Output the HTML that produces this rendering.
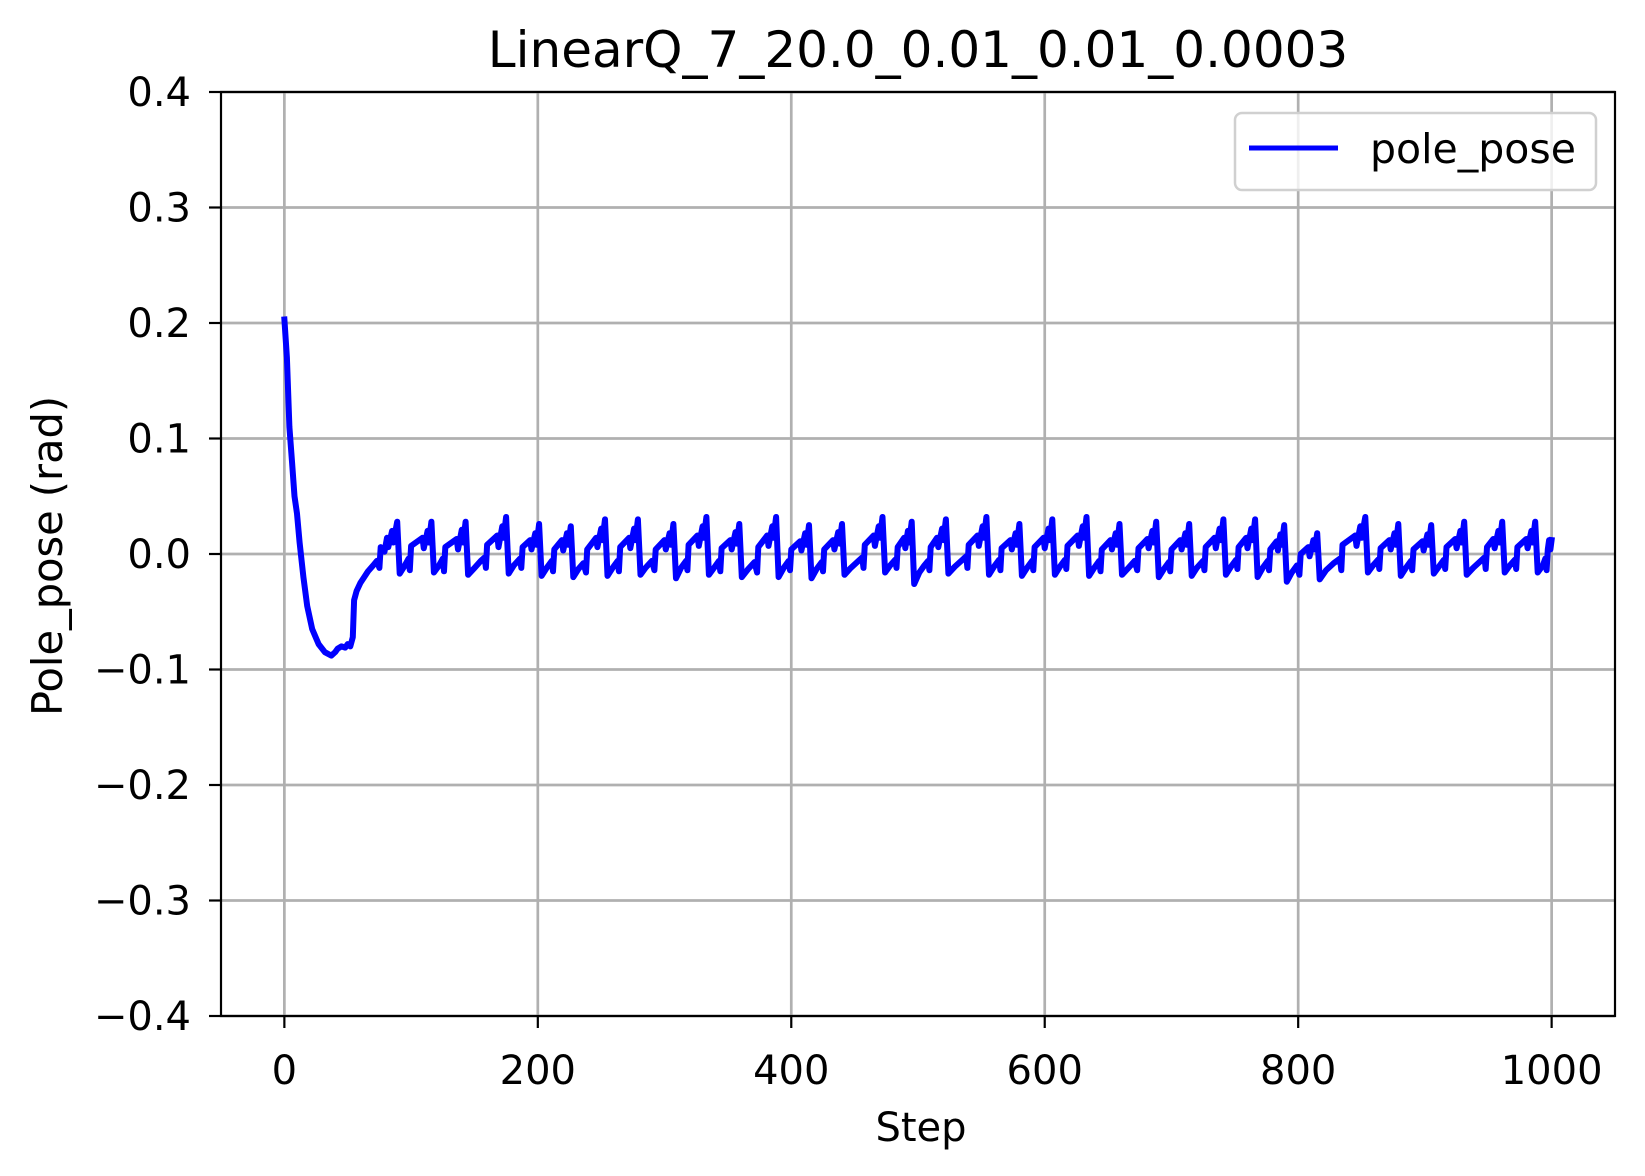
<!DOCTYPE html>
<html><head><meta charset="utf-8"><style>
html,body{margin:0;padding:0;background:#fff;}
svg{display:block;font-family:"DejaVu Sans","Liberation Sans",sans-serif;}
</style></head><body>
<svg id="chart" width="1645" height="1176" viewBox="0 0 1645 1176" xmlns="http://www.w3.org/2000/svg">
<rect width="1645" height="1176" fill="#fff"/>
<g id="grid"></g>
<g id="series"></g>
<rect x="221" y="92" width="1394" height="924" fill="none" stroke="#000" stroke-width="2.2"/>
<g id="ticks"></g>
<text x="918" y="67" font-size="50" text-anchor="middle">LinearQ_7_20.0_0.01_0.01_0.0003</text>
<text x="921" y="1141" font-size="40" text-anchor="middle">Step</text>
<text transform="translate(62,556) rotate(-90)" font-size="41.5" text-anchor="middle">Pole_pose (rad)</text>
<g>
<rect x="1241" y="113" width="361" height="77" rx="7" fill="#fff" fill-opacity="0.8" stroke="#d0d0d0" stroke-width="2.5" transform="translate(-6,0)"/>
<line x1="1249" y1="148" x2="1338" y2="148" stroke="#0000ff" stroke-width="5"/>
<text x="1370" y="163" font-size="41">pole_pose</text>
</g>
</svg>
<script>
const xTicks=[0,200,400,600,800,1000];
const yTicks=[0.4,0.3,0.2,0.1,0.0,-0.1,-0.2,-0.3,-0.4];
const yTickLabels=["0.4","0.3","0.2","0.1","0.0","\u22120.1","\u22120.2","\u22120.3","\u22120.4"];
const seriesPoints=[[0,.203],[2,.17],[4,.11],[6,.08],[8,.05],[10,.035],[12,.01],[15,-.02],[18,-.045],[22,-.065],[27,-.078],[32,-.085],[37,-.088],[40,-.085],[42,-.082],[45,-.08],[48,-.081],[50,-.078],[52,-.08],[54,-.072],[55,-.04],[57,-.032],[60,-.025],[63,-.02],[66,-.015],[70,-.01],[73,-.006],[75,-.012],[76,.006],[79,.002],[81,.014],[82,.006],[85,.02],[86,.01],[89,.028],
[91,-.017],[95,-.01],[98,-.004],[99,-.014],[100,.007],[109,.014],[110,.005],[113,.02],[114,.01],[116,.028],
[118,-.016],[122,-.01],[125,-.004],[126,-.015],[127,.006],[136,.013],[137,.004],[140,.021],[141,.01],[143,.028],
[145,-.018],[150,-.012],[155,-.006],[158,-.003],[159,-.012],[160,.008],[168,.016],[169,.006],[172,.024],[173,.014],[175,.032],
[177,-.017],[181,-.01],[186,-.004],[187,-.012],[188,.006],[194,.012],[195,.004],[198,.018],[199,.008],[201,.026],
[203,-.019],[207,-.012],[211,-.006],[212,-.015],[213,.004],[219,.012],[220,.003],[223,.018],[224,.008],[226,.024],
[228,-.02],[232,-.013],[236,-.008],[238,-.016],[239,.004],[246,.014],[247,.006],[250,.022],[251,.012],[253,.03],
[255,-.019],[259,-.012],[263,-.006],[264,-.015],[265,.006],[272,.014],[273,.005],[276,.022],[277,.012],[279,.03],
[281,-.018],[285,-.012],[290,-.006],[292,-.014],[293,.004],[300,.012],[301,.004],[304,.018],[305,.008],[307,.026],
[309,-.021],[313,-.012],[317,-.006],[318,-.014],[319,.008],[326,.016],[327,.007],[330,.024],[331,.014],[333,.032],
[335,-.018],[339,-.012],[343,-.006],[344,-.015],[345,.005],[352,.012],[353,.004],[356,.019],[357,.009],[359,.026],
[361,-.02],[366,-.013],[371,-.007],[373,-.016],[374,.006],[381,.016],[382,.007],[385,.024],[386,.014],[388,.032],
[390,-.02],[394,-.012],[398,-.006],[399,-.014],[400,.004],[407,.011],[408,.003],[411,.018],[412,.008],[414,.025],
[416,-.021],[420,-.013],[424,-.007],[425,-.015],[426,.004],[433,.012],[434,.004],[437,.019],[438,.009],[440,.026],
[442,-.018],[447,-.012],[453,-.006],[456,-.003],[457,-.012],[458,.008],[465,.016],[466,.007],[469,.024],[470,.014],[472,.032],
[474,-.016],[478,-.01],[482,-.005],[483,-.012],[484,.006],[489,.014],[490,.005],[492,.02],[493,.01],[495,.028],
[497,-.026],[501,-.016],[505,-.01],[508,-.006],[509,-.014],[510,.006],[515,.014],[516,.006],[519,.022],[520,.012],[522,.03],
[524,-.017],[529,-.011],[535,-.005],[538,-.002],[539,-.012],[540,.008],[547,.016],[548,.007],[551,.024],[552,.014],[554,.032],
[556,-.018],[560,-.011],[564,-.005],[565,-.014],[566,.005],[573,.012],[574,.004],[577,.018],[578,.008],[580,.026],
[582,-.019],[586,-.012],[590,-.006],[591,-.014],[592,.006],[599,.014],[600,.005],[603,.022],[604,.012],[606,.03],
[608,-.018],[612,-.011],[616,-.005],[617,-.013],[618,.007],[626,.016],[627,.007],[630,.024],[631,.014],[633,.032],
[635,-.019],[639,-.012],[643,-.006],[644,-.015],[645,.004],[652,.012],[653,.004],[656,.018],[657,.008],[659,.026],
[661,-.018],[666,-.012],[671,-.006],[673,-.014],[674,.005],[681,.013],[682,.005],[685,.02],[686,.01],[688,.028],
[690,-.02],[694,-.013],[698,-.007],[699,-.015],[700,.004],[707,.012],[708,.004],[711,.018],[712,.008],[714,.026],
[716,-.019],[720,-.012],[725,-.006],[726,-.014],[727,.006],[734,.014],[735,.005],[738,.022],[739,.012],[741,.03],
[743,-.018],[747,-.011],[751,-.005],[752,-.013],[753,.006],[759,.014],[760,.005],[763,.022],[764,.012],[766,.03],
[768,-.02],[772,-.012],[776,-.006],[777,-.014],[778,.004],[783,.011],[784,.003],[786,.017],[787,.008],[789,.025],
[791,-.024],[795,-.016],[799,-.01],[801,-.018],[802,.0],[808,.006],[809,-.002],[812,.012],[813,.004],[815,.018],
[817,-.022],[822,-.014],[828,-.008],[833,-.004],[834,-.014],[835,.008],[845,.016],[846,.007],[849,.024],[850,.014],[853,.032],
[855,-.016],[859,-.01],[863,-.005],[864,-.013],[865,.005],[872,.012],[873,.004],[876,.018],[877,.008],[879,.026],
[881,-.019],[885,-.012],[889,-.006],[890,-.014],[891,.004],[898,.011],[899,.003],[902,.017],[903,.008],[905,.025],
[907,-.017],[911,-.011],[915,-.005],[916,-.013],[917,.006],[924,.013],[925,.005],[928,.02],[929,.01],[931,.028],
[933,-.018],[938,-.012],[944,-.006],[947,-.003],[948,-.013],[949,.006],[954,.013],[955,.005],[958,.02],[959,.01],[961,.028],
[963,-.016],[967,-.01],[971,-.005],[972,-.013],[973,.006],[980,.013],[981,.005],[984,.02],[985,.01],[987,.028],
[989,-.016],[993,-.01],[995,-.004],[996,-.014],[997,.004],[998,.012],[999,.004],[1000,.012]];

const NS="http://www.w3.org/2000/svg";
const L=221,R=1615,T=92,B=1016;
const xMin=-50,xMax=1050,yMin=-0.4,yMax=0.4;
function sx(v){return L+(v-xMin)/(xMax-xMin)*(R-L);}
function sy(v){return B-(v-yMin)/(yMax-yMin)*(B-T);}
function mk(tag,attrs,parent){const e=document.createElementNS(NS,tag);for(const k in attrs)e.setAttribute(k,attrs[k]);parent.appendChild(e);return e;}
const grid=document.getElementById('grid'),ticks=document.getElementById('ticks'),series=document.getElementById('series');
xTicks.forEach(t=>{
  const x=sx(t);
  const g=mk('line',{x1:x,y1:T,x2:x,y2:B,stroke:'#b0b0b0','stroke-width':2.7},grid);
  
  
  const tk=mk('line',{x1:x,y1:B,x2:x,y2:B+12,stroke:'#000','stroke-width':2.2},ticks);
  
  
  const lb=mk('text',{x:x,y:B+68,'font-size':40,'text-anchor':'middle'},ticks);
  lb.textContent=String(t);
  
  
});
yTicks.forEach((t,i)=>{
  const y=sy(t);
  const g=mk('line',{x1:L,y1:y,x2:R,y2:y,stroke:'#b0b0b0','stroke-width':2.7},grid);
  
  
  const tk=mk('line',{x1:L-12,y1:y,x2:L,y2:y,stroke:'#000','stroke-width':2.2},ticks);
  
  
  const lb=mk('text',{x:L-30,y:y+14,'font-size':40,'text-anchor':'end'},ticks);
  lb.textContent=yTickLabels[i];
  
  
});
const d=seriesPoints.map((p,i)=>(i?'L':'M')+sx(p[0]).toFixed(1)+','+sy(p[1]).toFixed(1)).join('');
const path=mk('path',{d:d,fill:'none',stroke:'#0000ff','stroke-width':6,'stroke-linejoin':'round','stroke-linecap':'square'},series);


</script>
</body></html>
